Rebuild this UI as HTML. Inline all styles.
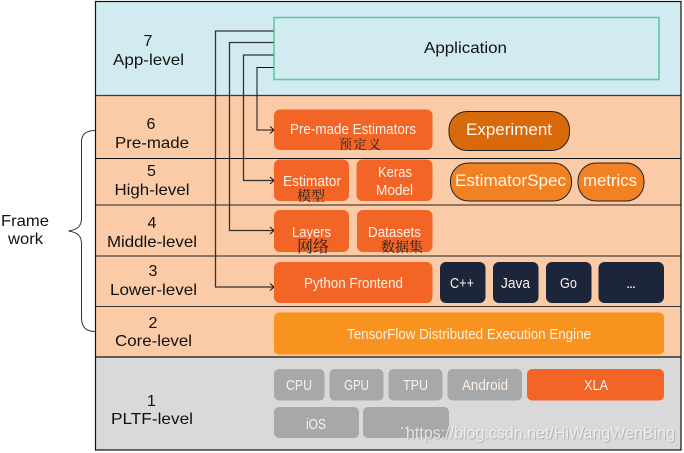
<!DOCTYPE html>
<html>
<head>
<meta charset="utf-8">
<style>
html,body{margin:0;padding:0;background:#fff;width:684px;height:453px;overflow:hidden}
svg{display:block}
text{font-family:"Liberation Sans","Noto Sans CJK SC",sans-serif}
.l{font-size:16px;fill:#111;text-anchor:start}
.b{font-size:15px;fill:#fff0e6;text-anchor:start}
.big{font-size:17px;fill:#fff6ec;text-anchor:start}
.cn{font-family:"Noto Serif CJK SC","Liberation Serif",serif;fill:#222}
</style>
</head>
<body>
<svg width="684" height="453" viewBox="0 0 684 453" xmlns="http://www.w3.org/2000/svg">
<rect x="0" y="0" width="684" height="453" fill="#fff"/>
<rect x="95.500" y="1.500" width="585.500" height="94" fill="#d2ebf0"/>
<rect x="95.500" y="95.500" width="585.500" height="262" fill="#facba6"/>
<rect x="95.500" y="357" width="585.500" height="93" fill="#d9d9d9"/>
<g stroke="#222" fill="none">
<path d="M95.500 95.500H681" stroke="#3a3a3a" stroke-width="1.200"/>
<path d="M95.500 158.500H681" stroke="#111" stroke-width="1"/>
<path d="M95.500 205H681" stroke="#6b5a4c" stroke-width="1.400"/>
<path d="M95.500 256H681" stroke="#6b5a4c" stroke-width="1.400"/>
<path d="M95.500 306.500H681" stroke="#333" stroke-width="1"/>
<path d="M95.500 357H681" stroke="#333" stroke-width="1.400"/>
<rect x="95.500" y="1.500" width="585.500" height="448.500" stroke="#111" stroke-width="1.200"/>
</g>

<rect x="274" y="17.500" width="385" height="62" fill="none" stroke="#5ec9a0" stroke-width="1.600"/>

<g fill="none" stroke="#111" stroke-width="1">
<path d="M273.500 31H215.500V287H274" stroke="#333" stroke-width="1.300"/>
<path d="M273.500 42.500H229.500V230.500H274" stroke="#333" stroke-width="1.300"/>
<path d="M273.500 55H243.500V180.500H274" stroke="#333" stroke-width="1.300"/>
<path d="M273.500 67.500H257V130H274"/>
<path d="M270 126.500L274 130L270 133.500"/>
<path d="M270 177L274 180.500L270 184"/>
<path d="M270 227L274 230.500L270 234"/>
<path d="M270 283.500L274 287L270 290.500"/>
</g>

<path d="M95 130.500C86 130.500 81.500 134 81.500 142V218C81.500 226 78 229.500 68.500 231C78 232.500 81.500 236 81.500 244V318C81.500 327 86 331.500 95 331.500" fill="none" stroke="#333" stroke-width="1"/>

<g>
<rect x="274" y="109.500" width="158.500" height="40.500" rx="6" fill="#f26527"/>
<rect x="274" y="159.500" width="75" height="41.500" rx="6" fill="#f26527"/>
<rect x="356.500" y="159.500" width="76" height="41.500" rx="6" fill="#f26527"/>
<rect x="274" y="210" width="75" height="42" rx="6" fill="#f26527"/>
<rect x="357" y="210" width="75.500" height="42" rx="6" fill="#f26527"/>
<rect x="274" y="262" width="158.500" height="41" rx="6" fill="#f26527"/>
<rect x="440" y="262" width="45.500" height="41" rx="6" fill="#1c2539"/>
<rect x="493" y="262" width="45.500" height="41" rx="6" fill="#1c2539"/>
<rect x="546" y="262" width="45.500" height="41" rx="6" fill="#1c2539"/>
<rect x="598.500" y="262" width="65.500" height="41" rx="6" fill="#1c2539"/>
<rect x="274" y="312.500" width="390" height="42" rx="5" fill="#f7931e"/>
<rect x="274" y="369" width="50.500" height="31.500" rx="5" fill="#a7a8aa"/>
<rect x="329.500" y="369" width="54" height="31.500" rx="5" fill="#a7a8aa"/>
<rect x="388.500" y="369" width="54" height="31.500" rx="5" fill="#a7a8aa"/>
<rect x="447.500" y="369" width="74.500" height="31.500" rx="5" fill="#a7a8aa"/>
<rect x="527" y="369" width="137" height="31.500" rx="5" fill="#f26527"/>
<rect x="274" y="407" width="85" height="31" rx="5" fill="#a7a8aa"/>
<rect x="363" y="407" width="86" height="31" rx="5" fill="#a7a8aa"/>
<rect x="449" y="111.500" width="120.500" height="39" rx="18" fill="#d96a0c" stroke="#222" stroke-width="1"/>
<rect x="450.500" y="163" width="121" height="38" rx="18" fill="#f28124" stroke="#222" stroke-width="1"/>
<rect x="578" y="163" width="66" height="38" rx="18" fill="#f28124" stroke="#222" stroke-width="1"/>
</g>

<g class="labels">
<text class="l" x="143.500" y="46">7</text>
<text class="l" x="113" y="65" textLength="71" lengthAdjust="spacingAndGlyphs">App-level</text>
<text class="l" x="146.500" y="129">6</text>
<text class="l" x="115" y="148" textLength="74" lengthAdjust="spacingAndGlyphs">Pre-made</text>
<text class="l" x="147" y="176">5</text>
<text class="l" x="114.500" y="195" textLength="75" lengthAdjust="spacingAndGlyphs">High-level</text>
<text class="l" x="147.500" y="228">4</text>
<text class="l" x="107" y="247" textLength="90" lengthAdjust="spacingAndGlyphs">Middle-level</text>
<text class="l" x="148.500" y="276">3</text>
<text class="l" x="110" y="295" textLength="87" lengthAdjust="spacingAndGlyphs">Lower-level</text>
<text class="l" x="148.500" y="328">2</text>
<text class="l" x="115" y="346" textLength="77" lengthAdjust="spacingAndGlyphs">Core-level</text>
<text class="l" x="147" y="406">1</text>
<text class="l" x="111" y="424" textLength="82" lengthAdjust="spacingAndGlyphs">PLTF-level</text>
<text class="l" x="1" y="226" textLength="48" lengthAdjust="spacingAndGlyphs">Frame</text>
<text class="l" x="8" y="244" textLength="35" lengthAdjust="spacingAndGlyphs">work</text>
<text class="l" x="424" y="53" textLength="83" lengthAdjust="spacingAndGlyphs">Application</text>

<text class="b" x="290" y="134" textLength="126" lengthAdjust="spacingAndGlyphs">Pre-made Estimators</text>
<text class="cn" x="339" y="149" font-size="13" textLength="42" lengthAdjust="spacing">预定义</text>
<text class="big" x="466" y="135" textLength="86" lengthAdjust="spacingAndGlyphs">Experiment</text>
<text class="big" x="455" y="186" textLength="111" lengthAdjust="spacingAndGlyphs">EstimatorSpec</text>
<text class="big" x="583" y="186" textLength="54" lengthAdjust="spacingAndGlyphs">metrics</text>
<text class="b" x="283" y="186" textLength="58" lengthAdjust="spacingAndGlyphs">Estimator</text>
<text class="cn" x="297" y="201" font-size="14">模型</text>
<text class="b" x="378" y="177" textLength="34" lengthAdjust="spacingAndGlyphs">Keras</text>
<text class="b" x="376" y="195" textLength="37" lengthAdjust="spacingAndGlyphs">Model</text>
<text class="b" x="292" y="237" textLength="39" lengthAdjust="spacingAndGlyphs">Layers</text>
<text class="cn" x="297" y="252" font-size="16">网络</text>
<text class="b" x="368" y="237" textLength="53" lengthAdjust="spacingAndGlyphs">Datasets</text>
<text class="cn" x="381" y="252" font-size="14">数据集</text>
<text class="b" x="304" y="288" textLength="99" lengthAdjust="spacingAndGlyphs">Python Frontend</text>
<text class="b" x="450" y="288" textLength="24" lengthAdjust="spacingAndGlyphs">C++</text>
<text class="b" x="501" y="288" textLength="29" lengthAdjust="spacingAndGlyphs">Java</text>
<text class="b" x="560" y="288" textLength="17" lengthAdjust="spacingAndGlyphs">Go</text>
<text class="b" x="626" y="288" textLength="10">...</text>
<text class="b" x="347" y="339" textLength="244" lengthAdjust="spacingAndGlyphs">TensorFlow Distributed Execution Engine</text>
<text class="b" x="286" y="390" textLength="26" lengthAdjust="spacingAndGlyphs">CPU</text>
<text class="b" x="344" y="390" textLength="25" lengthAdjust="spacingAndGlyphs">GPU</text>
<text class="b" x="403" y="390" textLength="25" lengthAdjust="spacingAndGlyphs">TPU</text>
<text class="b" x="462" y="390" textLength="46" lengthAdjust="spacingAndGlyphs">Android</text>
<text class="b" x="584" y="390" textLength="24" lengthAdjust="spacingAndGlyphs">XLA</text>
<text class="b" x="306" y="429" textLength="20" lengthAdjust="spacingAndGlyphs">iOS</text>
<text class="b" x="400" y="429">..</text>
</g>

<text x="407" y="439.500" font-size="17" fill="#8f8f8f" opacity="0.5" textLength="269" lengthAdjust="spacingAndGlyphs">https://blog.csdn.net/HiWangWenBing</text>
<text x="406" y="438.500" font-size="17" fill="#f2f2f2" opacity="0.85" textLength="269" lengthAdjust="spacingAndGlyphs">https://blog.csdn.net/HiWangWenBing</text>
</svg>
</body>
</html>
